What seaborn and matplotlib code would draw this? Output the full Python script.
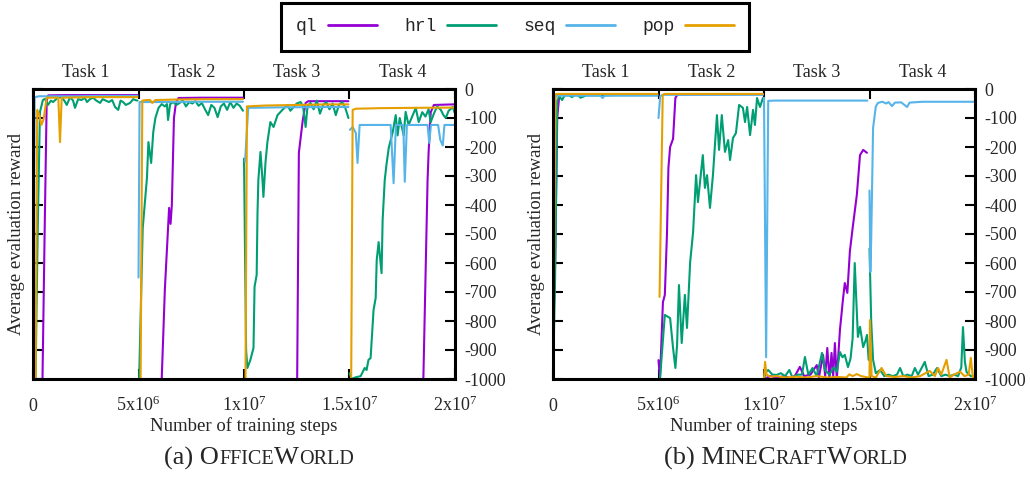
import numpy as np
import pandas as pd
import matplotlib
matplotlib.use('Agg')
import matplotlib.pyplot as plt
import seaborn as sns
from matplotlib.lines import Line2D
from matplotlib.offsetbox import TextArea, HPacker, AnnotationBbox

methods = ['ql', 'hrl', 'seq', 'pop']
colors = ['#9400D3', '#009E73', '#56B4E9', '#E69F00']
task_names = ['Task 1', 'Task 2', 'Task 3', 'Task 4']
task_centers = [2.5e6, 7.5e6, 12.5e6, 17.5e6]
x_ticks = [0, 5e6, 1e7, 1.5e7, 2e7]
x_tick_labels = ['0', '5x10$^{6}$', '1x10$^{7}$', '1.5x10$^{7}$', '2x10$^{7}$']
y_ticks = [0, -100, -200, -300, -400, -500, -600, -700, -800, -900, -1000]
nan = np.nan

# ---- OfficeWorld (steps in millions, nan separates tasks) ----
office_ql_x = [0, 0.45, 0.55, 0.65, 0.72, 1.5, 2.5, 3.5, 4.95, nan,
               5.0, 6.1, 6.25, 6.45, 6.52, 6.58, 6.68, 6.78, 6.9, 8.0, 9.95, nan,
               10.0, 12.52, 12.6, 12.78, 12.92, 13.05, 14.95, nan,
               15.0, 18.5, 18.7, 18.75, 18.85, 19.0, 19.97]
office_ql_y = [-1000, -1000, -500, -40, -22, -21, -21, -21, -21, nan,
               -1000, -1000, -690, -410, -465, -400, -100, -45, -31, -30, -30, nan,
               -1000, -1000, -220, -110, -48, -42, -42, nan,
               -1000, -1000, -314, -217, -80, -55, -53]

office_hrl_x = [0, 0.12, 0.22, 0.33, 0.47, 0.57, 0.71, 0.85, 0.95, 1.1, 1.19, 1.38, 1.5, 1.6,
                1.76, 1.9, 1.99, 2.14, 2.3, 2.45, 2.56, 2.7, 2.85, 3.0, 3.18, 3.3, 3.45, 3.6,
                3.75, 3.89, 4.04, 4.15, 4.27, 4.4, 4.6, 4.75, 4.84, 4.95, nan,
                5.03, 5.2, 5.4, 5.47, 5.6, 5.7, 5.8, 5.95, 6.1, 6.25, 6.35, 6.4, 6.5, 6.65,
                6.8, 6.95, 7.1, 7.25, 7.4, 7.55, 7.7, 7.85, 8.0, 8.15, 8.3, 8.45, 8.6, 8.75,
                8.9, 9.05, 9.2, 9.35, 9.5, 9.65, 9.8, 9.95, nan,
                10.0, 10.1, 10.16, 10.3, 10.45, 10.5, 10.6, 10.64, 10.68, 10.78, 10.87, 10.92,
                11.02, 11.11, 11.25, 11.4, 11.59, 11.82, 12.06, 12.2, 12.35, 12.5, 12.68, 12.8,
                12.92, 13.01, 13.15, 13.3, 13.45, 13.6, 13.75, 13.9, 14.05, 14.2, 14.35, 14.5,
                14.65, 14.8, 14.95, nan,
                15.0, 15.1, 15.25, 15.53, 15.72, 15.81, 15.9, 16.0, 16.14, 16.24, 16.29, 16.38,
                16.52, 16.57, 16.67, 16.75, 16.86, 17.05, 17.19, 17.28, 17.38, 17.57, 17.66,
                17.8, 18.0, 18.14, 18.28, 18.45, 18.6, 18.75, 18.85, 19.0, 19.15, 19.33, 19.45,
                19.56, 19.7, 19.9, 19.97]
office_hrl_y = [-1000, -1000, -500, -79, -38, -34, -55, -40, -45, -35, -28, -30, -42, -55,
                -28, -40, -65, -35, -38, -30, -45, -35, -30, -40, -48, -35, -40, -45,
                -38, -62, -72, -40, -45, -55, -48, -35, -38, -40, nan,
                -1000, -480, -307, -183, -255, -148, -100, -65, -52, -60, -52, -107, -52, -45,
                -55, -48, -40, -60, -45, -50, -42, -58, -48, -70, -90, -55, -65, -97,
                -60, -50, -72, -45, -65, -50, -58, -75, nan,
                -240, -900, -962, -935, -893, -682, -641, -428, -314, -217, -307, -372,
                -252, -183, -114, -131, -90, -72, -55, -75, -62, -50, -45, -60,
                -131, -60, -48, -70, -40, -85, -55, -45, -70, -50, -90, -55,
                -45, -65, -100, nan,
                -980, -1000, -995, -990, -962, -969, -934, -928, -762, -721, -590, -528,
                -635, -452, -314, -262, -203, -148, -90, -160, -100, -160, -79,
                -124, -90, -65, -114, -80, -95, -70, -114, -85, -60, -72, -90,
                -100, -75, -62, -80]

office_seq_x = [0, 0.08, 0.3, 1.0, 2.0, 3.0, 4.0, 4.95, nan,
                5.0, 5.05, 6.0, 7.5, 9.95, nan,
                10.05, 10.2, 12.0, 14.95, nan,
                15.02, 15.15, 15.3, 15.38, 15.48, 16.95, 17.09, 17.2, 17.55, 17.62, 17.72,
                18.7, 18.78, 18.86, 19.2, 19.3, 19.42, 19.5, 19.97]
office_seq_y = [-1000, -28, -25, -25, -25, -24, -24, -24, nan,
                -650, -45, -45, -44, -44, nan,
                -250, -65, -63, -62, nan,
                -141, -131, -152, -255, -124, -124, -325, -124, -124, -320, -124,
                -124, -186, -124, -124, -175, -195, -124, -124]

office_pop_x = [0, 0.12, 0.2, 0.3, 0.4, 0.5, 0.65, 1.2, 1.28, 1.36, 2.0, 3.0, 4.0, 4.95, nan,
                5.0, 5.1, 5.18, 5.4, 5.55, 5.65, 5.8, 7.0, 8.5, 9.95, nan,
                10.0, 10.07, 10.14, 11.0, 12.5, 14.0, 14.95, nan,
                15.0, 15.08, 15.15, 15.3, 16.5, 18.0, 19.97]
office_pop_y = [-1000, -1000, -72, -90, -124, -105, -30, -30, -183, -30, -29, -28, -28, -28, nan,
                -1000, -1000, -40, -38, -38, -48, -38, -36, -35, -35, nan,
                -1000, -1000, -60, -57, -55, -53, -53, nan,
                -1000, -1000, -72, -68, -66, -65, -64]

# ---- MineCraftWorld ----
mine_ql_x = [0, 0.1, 0.2, 0.3, 1.5, 3.0, 4.95, nan,
             5.0, 5.07, 5.21, 5.3, 5.4, 5.47, 5.55, 5.69, 5.8, 5.9, 9.95, nan,
             10.0, 10.3, 10.6, 11.0, 11.3, 11.5, 11.7, 11.9, 12.2, 12.5, 12.6, 12.8, 12.9,
             13.0, 13.1, 13.2, 13.28, 13.36, 13.45, 13.6, 13.75, 13.83, 13.95, 14.07, 14.2,
             14.4, 14.55, 14.7, 14.88, nan,
             15.0, 19.97]
mine_ql_y = [-870, -600, -100, -20, -18, -18, -18, nan,
             -935, -1000, -735, -710, -503, -272, -200, -172, -31, -19, -18, nan,
             -1000, -990, -995, -990, -1000, -985, -958, -990, -985, -952, -995, -917, -990,
             -893, -1000, -910, -990, -876, -1000, -830, -720, -669, -703, -560, -480,
             -365, -228, -210, -220, nan,
             -1000, -1000]

mine_hrl_x = [0, 0.1, 0.2, 0.3, 0.43, 0.55, 0.75, 0.9, 1.0, 1.2, 1.3, 1.6, 2.0, 2.5, 3.0,
              3.5, 4.0, 4.5, 4.95, nan,
              5.07, 5.3, 5.55, 5.69, 5.8, 5.88, 5.97, 6.1, 6.25, 6.35, 6.5, 6.64, 6.78, 6.87,
              7.1, 7.2, 7.3, 7.44, 7.58, 7.77, 7.87, 8.0, 8.15, 8.3, 8.39, 8.53, 8.67, 8.82,
              9.0, 9.1, 9.2, 9.34, 9.48, 9.57, 9.67, 9.81, 9.95, nan,
              10.0, 10.1, 10.2, 10.4, 10.6, 10.8, 11.0, 11.2, 11.35, 11.6, 11.8, 11.94, 12.1,
              12.3, 12.5, 12.75, 12.9, 13.1, 13.3, 13.45, 13.6, 13.72, 13.83, 13.98, 14.1,
              14.2, 14.3, 14.45, 14.55, 14.7, 14.8, 14.88, 14.96, nan,
              15.0, 15.08, 15.17, 15.3, 15.5, 15.7, 15.9, 16.1, 16.3, 16.45, 16.6, 16.8, 17.0,
              17.15, 17.3, 17.5, 17.62, 17.8, 18.0, 18.2, 18.4, 18.6, 18.8, 19.0, 19.2, 19.35,
              19.43, 19.52, 19.6, 19.8, 19.97]
mine_hrl_y = [-1000, -650, -40, -25, -38, -22, -22, -28, -22, -22, -30, -22, -22, -22, -21,
              -21, -21, -21, -21, nan,
              -1000, -779, -790, -893, -962, -883, -676, -876, -710, -824, -597, -493, -297, -390,
              -228, -341, -297, -410, -297, -90, -210, -90, -217, -176, -245, -169, -152, -55,
              -65, -114, -62, -159, -72, -124, -31, -62, -31, nan,
              -1000, -975, -969, -985, -986, -980, -990, -969, -995, -985, -985, -924, -985,
              -962, -990, -910, -970, -985, -960, -975, -907, -925, -917, -959, -930,
              -860, -600, -855, -820, -890, -870, -848, -934, nan,
              -550, -800, -934, -980, -969, -990, -985, -990, -985, -962, -990, -985, -990,
              -962, -985, -958, -941, -990, -985, -962, -990, -985, -990, -985, -990, -960,
              -821, -940, -976, -990, -990]

mine_seq_x = [0, 0.08, 0.2, 1.0, 2.25, 2.35, 2.45, 3.5, 4.95, nan,
              5.0, 5.08, 5.2, 7.5, 9.95, nan,
              10.0, 10.1, 10.2, 10.5, 12.0, 13.5, 14.9, nan,
              15.0, 15.04, 15.08, 15.17, 15.3, 15.4, 15.6, 15.8, 15.9, 16.07, 16.2, 16.5, 16.78,
              16.9, 17.5, 18.5, 19.97]
mine_seq_y = [-900, -30, -23, -23, -23, -31, -23, -23, -23, nan,
              -100, -25, -20, -20, -20, nan,
              -30, -925, -41, -40, -40, -40, -40, nan,
              -350, -631, -520, -134, -60, -48, -44, -50, -45, -59, -47, -46, -62,
              -47, -44, -44, -44]

mine_pop_x = [0, 0.12, 0.2, 2.5, 4.95, nan,
              5.05, 5.2, 5.3, 7.5, 9.95, nan,
              10.0, 10.05, 10.12, 10.3, 10.6, 11.0, 11.5, 12.0, 12.5, 13.0, 13.5, 13.9, 14.05,
              14.2, 14.4, 14.6, 14.95, nan,
              15.0, 15.02, 15.1, 15.3, 15.57, 15.8, 16.2, 16.6, 17.0, 17.4, 17.85, 18.1, 18.25,
              18.4, 18.65, 18.8, 19.0, 19.3, 19.5, 19.7, 19.8, 19.9, 19.97]
mine_pop_y = [-1000, -18, -17, -17, -17, nan,
              -717, -20, -17, -17, -17, nan,
              -1000, -941, -985, -992, -990, -995, -992, -995, -990, -995, -993, -995, -984,
              -990, -983, -990, -995, nan,
              -1000, -797, -990, -995, -962, -990, -993, -990, -995, -990, -972, -990, -962,
              -985, -934, -995, -985, -975, -990, -985, -927, -995, -990]


def make_frame(series):
    rows = []
    for method, xs, ys in series:
        seg = 0
        for x, y in zip(xs, ys):
            if np.isnan(x):
                seg += 1
                continue
            rows.append({'step': x * 1e6, 'reward': y, 'method': method, 'segment': seg})
    return pd.DataFrame(rows)


office_df = make_frame([('ql', office_ql_x, office_ql_y), ('hrl', office_hrl_x, office_hrl_y),
                        ('seq', office_seq_x, office_seq_y), ('pop', office_pop_x, office_pop_y)])
mine_df = make_frame([('ql', mine_ql_x, mine_ql_y), ('hrl', mine_hrl_x, mine_hrl_y),
                      ('seq', mine_seq_x, mine_seq_y), ('pop', mine_pop_x, mine_pop_y)])

sns.set_style('ticks')
plt.rcParams['font.family'] = ['Liberation Serif', 'DejaVu Serif']
plt.rcParams['mathtext.fontset'] = 'custom'
plt.rcParams['mathtext.rm'] = 'Liberation Serif'
plt.rcParams['mathtext.it'] = 'Liberation Serif:italic'
plt.rcParams['axes.unicode_minus'] = False

fig = plt.figure(figsize=(10.3, 4.78), dpi=100)
ax_office = fig.add_axes([33 / 1030, 1 - 379 / 478, 422 / 1030, 290 / 478])
ax_mine = fig.add_axes([553 / 1030, 1 - 379 / 478, 422 / 1030, 290 / 478])

for ax, df in [(ax_office, office_df), (ax_mine, mine_df)]:
    sns.lineplot(data=df, x='step', y='reward', hue='method', hue_order=methods,
                 palette=colors, units='segment', estimator=None, sort=False,
                 linewidth=1.5, legend=False, ax=ax)
    ax.set_xlim(0, 2e7)
    ax.set_ylim(-1000, 0)
    ax.set_xticks(x_ticks)
    ax.set_xticklabels(x_tick_labels)
    ax.set_yticks(y_ticks)
    ax.tick_params(axis='both', direction='in', length=7, width=1.5, color='black',
                   top=True, bottom=True, left=True, right=True,
                   labelleft=False, labelright=True, labelsize=13)
    ax.tick_params(axis='x', pad=23)
    ax.tick_params(axis='y', pad=7)
    for lab in ax.get_xticklabels():
        lab.set_verticalalignment('baseline')
    for sp in ax.spines.values():
        sp.set_linewidth(2.2)
        sp.set_color('black')
    ax.set_xlabel('Number of training steps', fontsize=13.5)
    ax.xaxis.set_label_coords(0.5, -0.131)
    ax.yaxis.set_label_position('left')
    ax.set_ylabel('Average evaluation reward', fontsize=13.5)
    ax.yaxis.label.set_verticalalignment('center')
    ax.yaxis.set_label_coords(-0.039, 0.5)
    for name, cx in zip(task_names, task_centers):
        ax.text(cx, 1.0586, name, transform=ax.get_xaxis_transform(),
                ha='center', va='center', fontsize=13)

handles = [Line2D([], [], color=c, lw=2) for c in colors]
leg = fig.legend(handles, methods, loc='upper center', bbox_to_anchor=(0.5, 0.994),
                 ncol=4, markerfirst=False, handlelength=2.7, handletextpad=0.6,
                 columnspacing=1.5, borderpad=0.85, borderaxespad=0, fancybox=False,
                 framealpha=1, prop={'family': 'Liberation Mono', 'size': 13})
leg.get_frame().set_edgecolor('black')
leg.get_frame().set_linewidth(2.2)


def caption(x, y, parts):
    boxes = [TextArea(txt, textprops=dict(fontsize=size, family='Liberation Serif'))
             for txt, size in parts]
    pack = HPacker(children=boxes, align='baseline', pad=0, sep=0)
    fig.add_artist(AnnotationBbox(pack, (x, y), xycoords='figure fraction',
                                  frameon=False, box_alignment=(0.5, 0.5)))


caption(259 / 1030, 1 - 458 / 478, [('(a) O', 19), ('FFICE', 14.5), ('W', 19), ('ORLD', 14.5)])
caption(785 / 1030, 1 - 458 / 478, [('(b) M', 19), ('INE', 14.5), ('C', 19), ('RAFT', 14.5),
                                    ('W', 19), ('ORLD', 14.5)])

fig.savefig('out.png', dpi=100)
